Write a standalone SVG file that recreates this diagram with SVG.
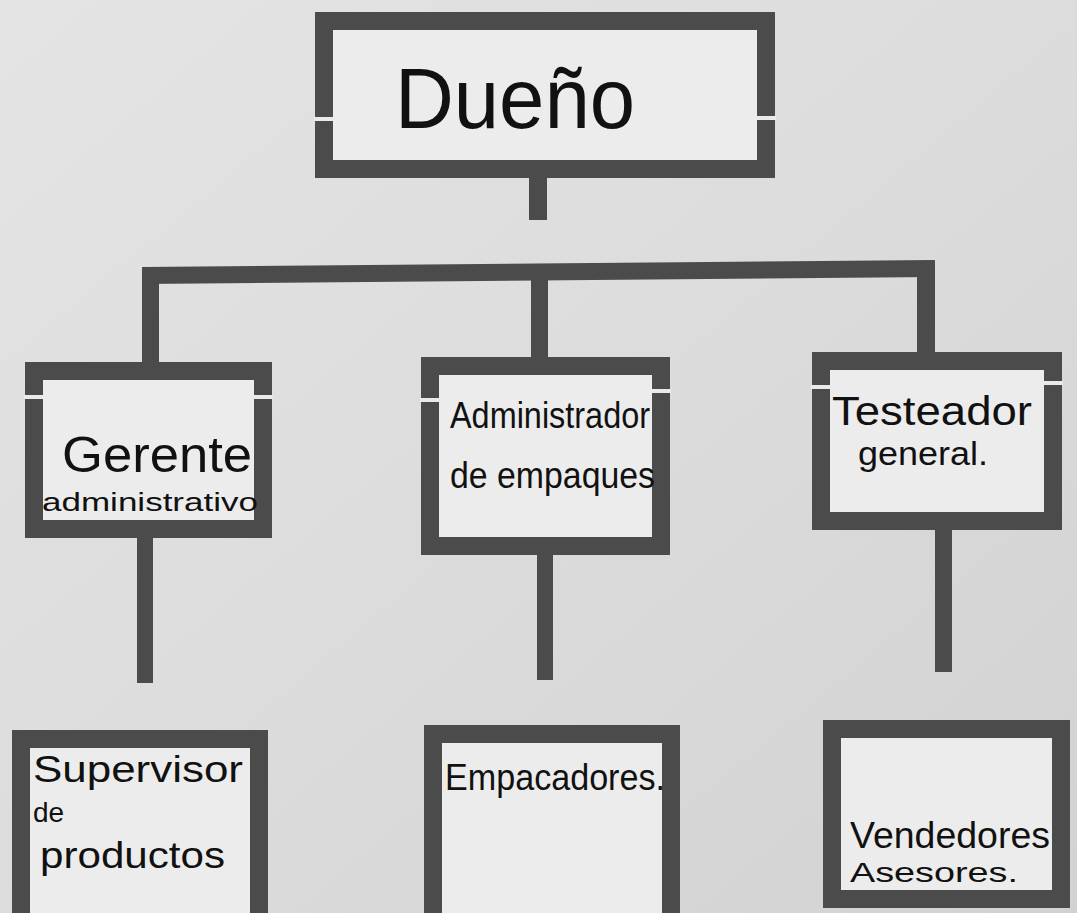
<svg xmlns="http://www.w3.org/2000/svg" width="1077" height="913" viewBox="0 0 1077 913">
<defs>
<linearGradient id="bg" x1="0" y1="0" x2="1" y2="1">
<stop offset="0" stop-color="#e4e4e4"/>
<stop offset="0.5" stop-color="#dcdcdc"/>
<stop offset="1" stop-color="#d2d2d2"/>
</linearGradient>
<style>
.box{fill:#ececec;stroke:#4b4b4b;stroke-width:18}
.gap{fill:#eaeaea}
.line{fill:#4b4b4b}
.t{font-family:"Liberation Sans",Arial,sans-serif;fill:#111}
</style>
</defs>
<rect width="1077" height="913" fill="url(#bg)"/>
<g id="connectors">
<rect class="line" x="529" y="176" width="18" height="44"/>
<polygon class="line" points="142,267 935,260 935,277 142,284"/>
<rect class="line" x="142" y="270" width="17" height="94"/>
<rect class="line" x="531" y="268" width="17" height="91"/>
<rect class="line" x="917" y="262" width="18" height="94"/>
<rect class="line" x="137" y="536" width="16" height="147"/>
<rect class="line" x="537" y="553" width="16" height="127"/>
<rect class="line" x="935" y="528" width="17" height="144"/>
</g>
<g id="node-dueno">
<rect class="box" x="324" y="21" width="442" height="148"/>
<rect class="gap" x="314" y="117" width="20" height="4"/>
<rect class="gap" x="756" y="116" width="20" height="4"/>
<text class="t" x="395" y="128" font-size="86" textLength="240" lengthAdjust="spacingAndGlyphs">Dueño</text>
</g>
<g id="node-gerente">
<rect class="box" x="34" y="371" width="229" height="158"/>
<rect class="gap" x="24" y="395" width="20" height="4"/>
<rect class="gap" x="253" y="395" width="20" height="4"/>
<text class="t" x="62" y="472" font-size="50" textLength="190" lengthAdjust="spacingAndGlyphs">Gerente</text>
<text class="t" x="42" y="511" font-size="25" textLength="216" lengthAdjust="spacingAndGlyphs">administrativo</text>
</g>
<g id="node-administrador">
<rect class="box" x="430" y="366" width="231" height="180"/>
<rect class="gap" x="420" y="398" width="20" height="4"/>
<rect class="gap" x="651" y="389" width="20" height="4"/>
<text class="t" x="450" y="428" font-size="36" textLength="200" lengthAdjust="spacingAndGlyphs">Administrador</text>
<text class="t" x="450" y="488" font-size="36" textLength="205" lengthAdjust="spacingAndGlyphs">de empaques</text>
</g>
<g id="node-testeador">
<rect class="box" x="821" y="361" width="232" height="160"/>
<rect class="gap" x="811" y="385" width="20" height="4"/>
<rect class="gap" x="1043" y="381" width="20" height="4"/>
<text class="t" x="832" y="425" font-size="40" textLength="200" lengthAdjust="spacingAndGlyphs">Testeador</text>
<text class="t" x="858" y="465" font-size="34" textLength="130" lengthAdjust="spacingAndGlyphs">general.</text>
</g>
<g id="node-supervisor">
<rect class="box" x="21" y="739" width="238" height="200"/>
<text class="t" x="33" y="782" font-size="36" textLength="210" lengthAdjust="spacingAndGlyphs">Supervisor</text>
<text class="t" x="33" y="822" font-size="28">de</text>
<text class="t" x="40" y="868" font-size="36" textLength="185" lengthAdjust="spacingAndGlyphs">productos</text>
</g>
<g id="node-empacadores">
<rect class="box" x="433" y="734" width="238" height="200"/>
<text class="t" x="445" y="790" font-size="36" textLength="220" lengthAdjust="spacingAndGlyphs">Empacadores.</text>
</g>
<g id="node-vendedores">
<rect class="box" x="832" y="729" width="229" height="170"/>
<text class="t" x="850" y="848" font-size="36" textLength="200" lengthAdjust="spacingAndGlyphs">Vendedores</text>
<text class="t" x="850" y="882" font-size="28" textLength="168" lengthAdjust="spacingAndGlyphs">Asesores.</text>
</g>
</svg>
